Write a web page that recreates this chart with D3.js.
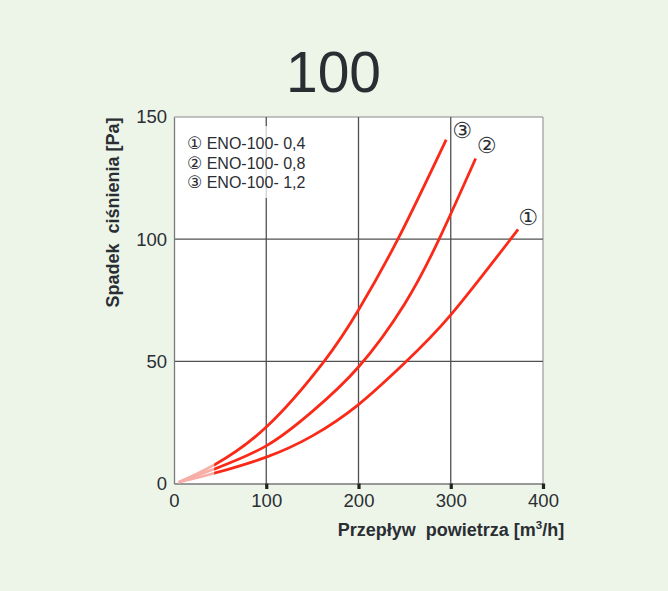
<!DOCTYPE html>
<html><head><meta charset="utf-8">
<script src="https://cdn.jsdelivr.net/npm/d3@7"></script>
<style>
html,body{margin:0;padding:0;background:#edf5e9;}
svg{display:block;font-family:"Liberation Sans",Arial,sans-serif;}
text{white-space:pre;}
</style></head>
<body>
<svg id="c" width="668" height="591"></svg>
<script>
const title = "100";
const xTicks = [0, 100, 200, 300, 400];
const yTicks = [0, 50, 100, 150];
const seriesMarks = ["①", "②", "③"];
const seriesNames = ["ENO-100- 0,4", "ENO-100- 0,8", "ENO-100- 1,2"];
const flow1 = [5, 43.5, 100, 150, 200, 250, 300, 373];
const pres1 = [0.5, 4.2, 10.8, 19.5, 32.3, 49.3, 69, 104];
const flow2 = [5, 43.5, 100, 150, 200, 250, 288, 327];
const pres2 = [0.5, 5.9, 15.4, 29.5, 47.7, 73.5, 100.5, 133];
const flow3 = [5, 43.5, 100, 162.7, 200, 242.7, 295];
const pres3 = [0.5, 7.6, 23.1, 50, 71, 100, 140.7];
const fadeUntil = 43.5;
const xTitle = "Przepływ  powietrza [m";
const yTitle = "Spadek  ciśnienia [Pa]";

const series = [
  {name: seriesNames[0], mark: seriesMarks[0], pts: flow1.map((q,i)=>({q, p: pres1[i]}))},
  {name: seriesNames[1], mark: seriesMarks[1], pts: flow2.map((q,i)=>({q, p: pres2[i]}))},
  {name: seriesNames[2], mark: seriesMarks[2], pts: flow3.map((q,i)=>({q, p: pres3[i]}))}
];
const labelOffsets = [[10,-12],[11,-13],[16,-9]];

const svg = d3.select("#c");
const x = d3.scaleLinear().domain([0,400]).range([174,543]);
const y = d3.scaleLinear().domain([0,150]).range([483.5,117]);

const defs = svg.append("defs");
defs.append("clipPath").attr("id","clipFade").append("rect")
  .attr("x",0).attr("y",0).attr("width",x(fadeUntil)).attr("height",591);
defs.append("clipPath").attr("id","clipSolid").append("rect")
  .attr("x",x(fadeUntil)).attr("y",0).attr("width",668).attr("height",591);

svg.append("text").attr("x",333.5).attr("y",92).attr("text-anchor","middle")
  .attr("font-size",57).attr("fill","#2a2e33").text(title);

svg.append("rect").attr("x",x(0)).attr("y",y(150)).attr("width",x(400)-x(0)).attr("height",y(0)-y(150))
  .attr("fill","#ffffff");

svg.append("line").attr("x1",x(0)).attr("x2",x(400)).attr("y1",y(150)).attr("y2",y(150)).attr("stroke","#8a8a8a").attr("stroke-width",1.2);
svg.append("line").attr("x1",x(400)).attr("x2",x(400)).attr("y1",y(150)).attr("y2",y(0)).attr("stroke","#9a9a9a").attr("stroke-width",1.2);

const g = svg.append("g");
g.selectAll(".hg").data(yTicks.filter(v=>v>0 && v<150)).join("line")
  .attr("x1",x(0)).attr("x2",x(400)).attr("y1",d=>y(d)).attr("y2",d=>y(d))
  .attr("stroke","#505050").attr("stroke-width",1.3);
g.selectAll(".vg").data(xTicks.filter(v=>v>0 && v<400)).join("line")
  .attr("x1",d=>x(d)).attr("x2",d=>x(d)).attr("y1",y(150)).attr("y2",y(0))
  .attr("stroke","#505050").attr("stroke-width",1.3);

// legend
svg.append("rect").attr("x",180).attr("y",126).attr("width",132).attr("height",72)
  .attr("fill","#ffffff").attr("opacity",0.75);
const lg = svg.selectAll(".lg").data(series).join("text")
  .attr("x",187).attr("y",(d,i)=>149+i*19.6)
  .attr("font-size",16).attr("fill","#2a2e33");
lg.append("tspan").attr("font-family","DejaVu Sans, sans-serif").attr("font-size",17).text(d=>d.mark);
lg.append("tspan").text(d=>" "+d.name);

// axes
const xAxis = d3.axisBottom(x).tickValues(xTicks).tickSize(0).tickPadding(10).tickFormat(d3.format("d"));
const ax = svg.append("g").attr("transform",`translate(0,${y(0)})`).call(xAxis);
ax.select(".domain").attr("stroke","#7a7a7a").attr("stroke-width",1.3);
ax.selectAll("text").attr("font-size",18.5).attr("fill","#2a2e33").attr("font-family","Liberation Sans, Arial, sans-serif");
ax.selectAll(".tick").filter(d=>d>0).append("rect").attr("x",-1.6).attr("y",0).attr("width",3.2).attr("height",5.5).attr("fill","#222");

const yAxis = d3.axisLeft(y).tickValues(yTicks).tickSize(0).tickPadding(7).tickFormat(d3.format("d"));
const ay = svg.append("g").attr("transform",`translate(${x(0)},0)`).call(yAxis);
ay.select(".domain").attr("stroke","#7a7a7a").attr("stroke-width",1.3);
ay.selectAll("text").attr("font-size",18.5).attr("fill","#2a2e33").attr("font-family","Liberation Sans, Arial, sans-serif");

// curves
const line = d3.line().x(d=>x(d.q)).y(d=>y(d.p)).curve(d3.curveNatural);
series.forEach((s,i)=>{
  const dstr = line(s.pts);
  svg.append("path").attr("d",dstr).attr("clip-path","url(#clipFade)").attr("fill","none").attr("stroke","#f7aea6").attr("stroke-width",2.6);
  svg.append("path").attr("d",dstr).attr("clip-path","url(#clipSolid)").attr("fill","none").attr("stroke","#fa2a18").attr("stroke-width",2.8);
  const last = s.pts[s.pts.length-1];
  svg.append("text").attr("x",x(last.q)+labelOffsets[i][0]).attr("y",y(last.p)+labelOffsets[i][1]+7.5)
    .attr("text-anchor","middle").attr("font-size",22).attr("fill","#2a2e33")
    .attr("font-family","DejaVu Sans, sans-serif").text(s.mark);
});

// axis titles
const xt = svg.append("text").attr("x",451).attr("y",535.5).attr("text-anchor","middle")
  .attr("font-size",18).attr("font-weight","bold").attr("fill","#2a2e33");
xt.append("tspan").text(xTitle);
xt.append("tspan").attr("font-size",11.5).attr("dy",-7).text("3");
xt.append("tspan").attr("dy",7).text("/h]");

svg.append("text").attr("transform","translate(118.5,212.5) rotate(-90)").attr("text-anchor","middle")
  .attr("font-size",18).attr("font-weight","bold").attr("fill","#2a2e33").text(yTitle);
</script>
</body></html>
